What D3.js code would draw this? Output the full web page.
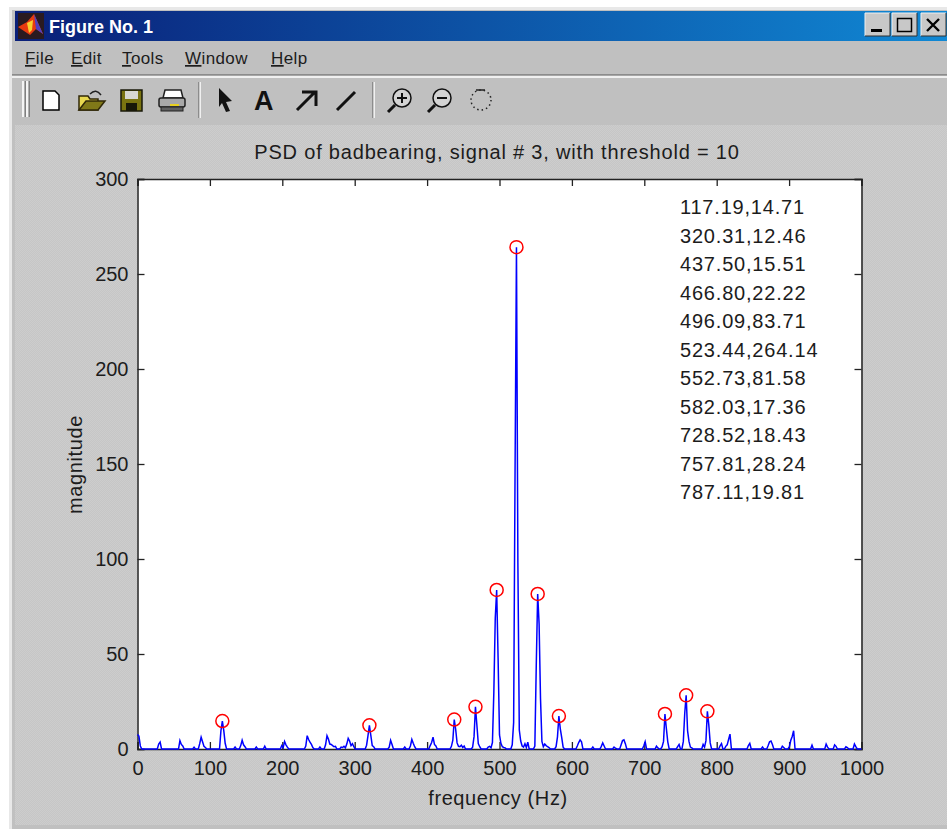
<!DOCTYPE html>
<html>

<head>
    <meta charset="utf-8">
    <style>
        html, body {
            margin: 0;
            padding: 0;
            background: white;
            overflow: hidden;
        }

        svg {
            display: block;
        }

        text {
            font-family: 'Liberation Sans', Arial, sans-serif;
            fill: #1c1c1c;
        }
    </style>
</head>

<body>
    <svg width="947" height="829"></svg>
</body>

<script src="https://d3js.org/d3.v7.min.js"></script>

<script>
    // spectrum, one group per bump, zero between bumps
    let spectrumFreq = [
        0, 1.95, 3.91, 5.86,
        27.34, 29.3, 31.25, 33.2,
        56.64, 58.59, 60.55, 62.5, 64.45,
        76.17, 78.13, 80.08,
        83.98, 85.94, 87.89, 89.84, 91.8, 93.75, 95.7,
        113.28, 115.23, 117.19, 119.14, 121.09, 123.05,
        132.81, 134.77, 136.72,
        140.63, 142.58, 144.53, 146.48, 148.44, 150.39,
        162.11, 164.06, 166.02,
        173.83, 175.78, 177.73,
        197.27, 199.22, 201.17, 203.13, 205.08, 207.03, 208.98,
        230.47, 232.42, 234.38, 236.33, 238.28, 240.23, 242.19, 244.14,
        250, 251.95, 253.91,
        257.81, 259.77, 261.72, 263.67, 265.63, 267.58, 269.53, 271.48, 273.44, 275.39,
        279.3, 281.25, 283.2, 285.16, 287.11, 289.06, 291.02, 292.97, 294.92, 296.88, 298.83, 300.78,
        314.45, 316.41, 318.36, 320.31, 322.27, 324.22, 326.17, 328.13,
        345.7, 347.66, 349.61, 351.56, 353.52,
        367.19, 369.14, 371.09,
        375, 376.95, 378.91, 380.86, 382.81, 384.77,
        402.34, 404.3, 406.25, 408.2, 410.16, 412.11, 414.06,
        431.64, 433.59, 435.55, 437.5, 439.45, 441.41, 443.36, 445.31, 447.27, 449.22, 451.17, 453.13,
        460.94, 462.89, 464.84, 466.8, 468.75, 470.7, 472.66, 474.61,
        482.42, 484.38, 486.33, 488.28, 490.23, 492.19, 494.14, 496.09, 498.05, 500, 501.95, 503.91, 505.86, 507.81, 509.77,
        515.63, 517.58, 519.53, 521.48, 523.44, 525.39, 527.34, 529.3, 531.25, 533.2, 535.16, 537.11, 539.06, 541.02,
        546.88, 548.83, 550.78, 552.73, 554.69, 556.64, 558.59, 560.55, 562.5, 564.45, 566.41, 568.36, 570.31,
        576.17, 578.13, 580.08, 582.03, 583.98, 585.94, 587.89, 589.84,
        605.47, 607.42, 609.38, 611.33, 613.28, 615.23,
        626.95, 628.91, 630.86,
        638.67, 640.63, 642.58, 644.53, 646.48,
        656.25, 658.2, 660.16, 662.11,
        666.02, 667.97, 669.92, 671.88, 673.83, 675.78,
        697.27, 699.22, 701.17, 703.13,
        714.84, 716.8, 718.75, 720.7,
        722.66, 724.61, 726.56, 728.52, 730.47, 732.42, 734.38,
        744.14, 746.09, 748.05, 750,
        751.95, 753.91, 755.86, 757.81, 759.77, 761.72, 763.67, 765.63, 767.58,
        779.3, 781.25, 783.2, 785.16, 787.11, 789.06, 791.02, 792.97,
        802.73, 804.69, 806.64, 808.59,
        810.55, 812.5, 814.45, 816.41, 818.36, 820.31,
        841.8, 843.75, 845.7, 847.66,
        861.33, 863.28, 865.23,
        869.14, 871.09, 873.05, 875, 876.95, 878.91,
        888.67, 890.63, 892.58, 894.53,
        898.44, 900.39, 902.34, 904.3, 906.25, 908.2,
        929.69, 931.64, 933.59,
        949.22, 951.17, 953.13, 955.08,
        960.94, 962.89, 964.84, 966.8,
        976.56, 978.52, 980.47, 982.42,
        988.28, 990.23, 992.19, 994.14,
        1000
    ];
    let spectrumMag = [
        7.6, 6.8, 1.6, 0,
        0, 2.6, 3.6, 0,
        0, 4.4, 2.4, 1.6, 0,
        0, 0.9, 0,
        0, 2.8, 6.2, 3.8, 1.4, 0.8, 0,
        0, 9.6, 14.71, 9.8, 3, 0,
        0, 1, 0,
        0, 1.8, 4.6, 2.2, 1.2, 0,
        0, 1, 0,
        0, 1.5, 0,
        0, 1.8, 0.6, 4, 2.2, 1, 0,
        0, 1.5, 7, 5, 3.6, 2.4, 0.8, 0,
        0, 1, 0,
        0, 2.2, 7, 5.2, 2.6, 2.4, 1.8, 1.2, 1.4, 0,
        0, 1, 0.8, 1.4, 0.6, 2.6, 5.6, 4.2, 1.8, 2.8, 1.2, 0,
        0, 2, 7, 12.46, 7.2, 1.8, 1.2, 0,
        0, 1, 4.6, 2.4, 0,
        0, 1, 0,
        0, 1.6, 5, 3, 1.2, 0,
        0, 1.8, 3.4, 6.2, 2.4, 1.6, 0,
        0, 1.4, 4.6, 15.51, 10.4, 3.2, 1.4, 1.2, 2, 0.8, 1.6, 0,
        0, 1, 6.5, 22.22, 12.6, 2.8, 1.2, 0,
        0, 1, 1.4, 0.6, 3.4, 30, 68.8, 83.71, 48, 7.4, 3, 1.2, 0.8, 0.6, 0,
        0, 2.2, 14, 146, 264.14, 98, 10, 4.2, 1.6, 1, 2.8, 0.8, 3.6, 0,
        0, 1.6, 44, 81.58, 66, 26.6, 4, 1.2, 2.6, 1.8, 1.2, 0.8, 0,
        0, 1.2, 6.4, 17.36, 10.6, 6, 1, 0,
        0, 1.6, 3.4, 4.8, 3.8, 0,
        0, 1, 0,
        0, 1.4, 3.2, 1.6, 0,
        0, 1, 0.4, 0,
        0, 2.2, 4.4, 4.8, 2.8, 0,
        0, 1.6, 3.8, 0,
        0, 1.5, 0.6, 0,
        0, 1.2, 4, 18.43, 10.8, 3.8, 0,
        0, 1.2, 2.4, 0,
        0, 4, 18.8, 28.24, 9.6, 4, 1, 0.6, 0,
        0, 2.4, 1, 4.4, 19.81, 12.8, 3.2, 0,
        0, 1.6, 2.8, 0,
        0, 1.4, 2.2, 5, 7.8, 0,
        0, 1.8, 3, 0,
        0, 1, 0,
        0, 1.8, 3.8, 4.2, 2.4, 0,
        0, 1.5, 0.8, 0,
        0, 1.2, 4.6, 6.6, 9.6, 0,
        0, 2, 0,
        0, 2.6, 1, 0,
        0, 2.2, 1.4, 0,
        0, 1.2, 0.8, 0,
        0, 2.6, 1.2, 0,
        0
    ];

    // detected peaks over threshold
    let peakFreq = [117.19, 320.31, 437.50, 466.80, 496.09, 523.44, 552.73, 582.03, 728.52, 757.81, 787.11];
    let peakMag = [14.71, 12.46, 15.51, 22.22, 83.71, 264.14, 81.58, 17.36, 18.43, 28.24, 19.81];
    let peakLabels = ["117.19,14.71", "320.31,12.46", "437.50,15.51", "466.80,22.22", "496.09,83.71", "523.44,264.14",
        "552.73,81.58", "582.03,17.36", "728.52,18.43", "757.81,28.24", "787.11,19.81"];

    let xTicks = [0, 100, 200, 300, 400, 500, 600, 700, 800, 900, 1000];
    let yTicks = [0, 50, 100, 150, 200, 250, 300];
    let menuItems = ["File", "Edit", "Tools", "Window", "Help"];
    let menuX = [25, 71, 122, 185, 271];

    let chartTitle = "PSD of badbearing, signal # 3, with threshold = 10";
    let xLabel = "frequency (Hz)";
    let yLabel = "magnitude";

    let svg = d3.select("svg");
    let defs = svg.append("defs");

    // window frame
    svg.append("rect").attr("x", 9).attr("y", 7).attr("width", 938).attr("height", 822).attr("fill", "#e8e8e8");
    svg.append("rect").attr("x", 12).attr("y", 10).attr("width", 935).attr("height", 819).attr("fill", "#c0c0c0");

    // dithered figure background
    let dither = defs.append("pattern").attr("id", "dither")
        .attr("width", 2).attr("height", 2).attr("patternUnits", "userSpaceOnUse");
    dither.append("rect").attr("width", 2).attr("height", 2).attr("fill", "#c6c6c6");
    dither.append("rect").attr("width", 1).attr("height", 1).attr("fill", "#cdcdcd");
    dither.append("rect").attr("x", 1).attr("y", 1).attr("width", 1).attr("height", 1).attr("fill", "#cdcdcd");
    svg.append("rect").attr("x", 15).attr("y", 125).attr("width", 932).attr("height", 700).attr("fill", "url(#dither)");

    // title bar
    let grad = defs.append("linearGradient").attr("id", "titlebar");
    grad.append("stop").attr("offset", "0%").attr("stop-color", "#0a1f78");
    grad.append("stop").attr("offset", "100%").attr("stop-color", "#1088d4");
    svg.append("rect").attr("x", 15).attr("y", 11).attr("width", 932).attr("height", 30).attr("fill", "url(#titlebar)");

    let logo = svg.append("g");
    logo.append("rect").attr("x", 18).attr("y", 13).attr("width", 26).attr("height", 26).attr("fill", "#2a1a20");
    logo.append("path").attr("d", "M18 27 L27 22 L34 14 L43 34 L36 29 L30 35 Z").attr("fill", "#e83a10");
    logo.append("path").attr("d", "M34 14 L43 34 L36 29 Z").attr("fill", "#5040c0");
    logo.append("path").attr("d", "M27 23 L33 20 L32 30 L29 33 Z").attr("fill", "#f8d030");

    svg.append("text").attr("x", 49).attr("y", 33).text("Figure No. 1")
        .style("font-weight", "bold").style("font-size", "18px").style("fill", "white");

    // window buttons
    let buttons = svg.append("g");
    [865, 892, 921].forEach(x => {
        buttons.append("rect").attr("x", x).attr("y", 13).attr("width", 25).attr("height", 23).attr("fill", "#c8c8c8");
        buttons.append("path").attr("d", `M${x} 36 V13 H${x + 25}`).attr("fill", "none").attr("stroke", "#f0f0f0");
        buttons.append("path").attr("d", `M${x} 36 H${x + 25} V13`).attr("fill", "none").attr("stroke", "#303030");
    });
    buttons.append("rect").attr("x", 871).attr("y", 29).attr("width", 11).attr("height", 3).attr("fill", "black");
    buttons.append("rect").attr("x", 897.5).attr("y", 18.5).attr("width", 14).attr("height", 13)
        .attr("fill", "none").attr("stroke", "black").attr("stroke-width", 1.5);
    buttons.append("path").attr("d", "M927 19 L939 31 M939 19 L927 31").attr("stroke", "black").attr("stroke-width", 2.4);

    // menu
    let menu = svg.append("g").selectAll("text").data(menuItems).join("text")
        .attr("x", (d, i) => menuX[i])
        .attr("y", 64)
        .style("font-size", "17px")
        .style("letter-spacing", "0.4px");
    menu.append("tspan").style("text-decoration", "underline").text(d => d[0]);
    menu.append("tspan").text(d => d.slice(1));

    svg.append("rect").attr("x", 12).attr("y", 74).attr("width", 935).attr("height", 1.5).attr("fill", "#8c8c8c");
    svg.append("rect").attr("x", 12).attr("y", 76).attr("width", 935).attr("height", 2).attr("fill", "#f0f0f0");

    // toolbar
    let tb = svg.append("g");
    tb.append("rect").attr("x", 22).attr("y", 81).attr("width", 2.5).attr("height", 36).attr("fill", "#f4f4f4");
    tb.append("rect").attr("x", 24.5).attr("y", 81).attr("width", 1.5).attr("height", 36).attr("fill", "#808080");
    tb.append("rect").attr("x", 26).attr("y", 81).attr("width", 2.5).attr("height", 36).attr("fill", "#f4f4f4");
    tb.append("rect").attr("x", 28.5).attr("y", 81).attr("width", 1.5).attr("height", 36).attr("fill", "#808080");
    [198, 372].forEach(x => {
        tb.append("rect").attr("x", x).attr("y", 82).attr("width", 1.5).attr("height", 36).attr("fill", "#8c8c8c");
        tb.append("rect").attr("x", x + 1.5).attr("y", 82).attr("width", 1.5).attr("height", 36).attr("fill", "#f0f0f0");
    });
    // new
    tb.append("path").attr("d", "M43 91 H55 L59 95 V110 H43 Z").attr("fill", "white").attr("stroke", "black").attr("stroke-width", 1.5);
    // open
    tb.append("path").attr("d", "M79 96 H88 L90 99 H98 V110 H79 Z").attr("fill", "#e8d850").attr("stroke", "#302808").attr("stroke-width", 1.5);
    tb.append("path").attr("d", "M79 110 L86 101 H105 L98 110 Z").attr("fill", "#807818").attr("stroke", "#302808").attr("stroke-width", 1.5);
    tb.append("path").attr("d", "M90 94 Q96 88 101 95").attr("fill", "none").attr("stroke", "#202020").attr("stroke-width", 1.5);
    // save
    tb.append("rect").attr("x", 121).attr("y", 90).attr("width", 21).attr("height", 21).attr("fill", "#7a7410").attr("stroke", "#181808").attr("stroke-width", 1.5);
    tb.append("rect").attr("x", 125).attr("y", 91).attr("width", 13).attr("height", 8).attr("fill", "#d8d8d0");
    tb.append("rect").attr("x", 126).attr("y", 103).attr("width", 11).attr("height", 8).attr("fill", "#181808");
    // print
    tb.append("path").attr("d", "M165 90 H181 L183 98 H163 Z").attr("fill", "white").attr("stroke", "#202020").attr("stroke-width", 1.5);
    tb.append("rect").attr("x", 159).attr("y", 98).attr("width", 26).attr("height", 9).attr("rx", 2).attr("fill", "#a8a8a8").attr("stroke", "#202020").attr("stroke-width", 1.5);
    tb.append("rect").attr("x", 161).attr("y", 107).attr("width", 22).attr("height", 4).attr("fill", "#606060").attr("stroke", "#202020");
    tb.append("rect").attr("x", 170).attr("y", 104).attr("width", 9).attr("height", 2).attr("fill", "#e8d020");
    // select arrow
    tb.append("path").attr("d", "M219 88 L232 101 L226 102 L230 111 L226 112 L222 103 L219 107 Z").attr("fill", "#111");
    // text tool
    tb.append("text").attr("x", 254).attr("y", 110).text("A").style("font-size", "27px").style("font-weight", "bold").style("fill", "#111");
    // arrow tool
    tb.append("path").attr("d", "M297 110 L314 93 M302 92 H316 V106").attr("fill", "none").attr("stroke", "#111").attr("stroke-width", 3);
    // line tool
    tb.append("path").attr("d", "M337 110 L355 92").attr("stroke", "#111").attr("stroke-width", 3);
    // zoom in / out
    [402, 442].forEach((x, i) => {
        tb.append("circle").attr("cx", x).attr("cy", 98).attr("r", 9).attr("fill", "#d4d4d4").attr("stroke", "#111").attr("stroke-width", 1.5);
        tb.append("path").attr("d", `M${x - 7} 105 L${x - 14} 112`).attr("stroke", "#111").attr("stroke-width", 3);
        tb.append("path").attr("d", `M${x - 5} 98 H${x + 5}`).attr("stroke", "#111").attr("stroke-width", 2);
        if (i == 0) tb.append("path").attr("d", `M${x} 93 V103`).attr("stroke", "#111").attr("stroke-width", 2);
    });
    // rotate
    tb.append("circle").attr("cx", 481).attr("cy", 100).attr("r", 10).attr("fill", "none")
        .attr("stroke", "#222").attr("stroke-width", 1.5).attr("stroke-dasharray", "1.5 3");
    tb.append("path").attr("d", "M476 90 H485").attr("stroke", "#222").attr("stroke-width", 1.5);

    // the axes
    let margin = { top: 179, right: 85.5, bottom: 80, left: 137.5 };
    let x = d3.scaleLinear().domain([0, 1000]).range([margin.left, 947 - margin.right]);
    let y = d3.scaleLinear().domain([0, 300]).range([829 - margin.bottom, margin.top]);

    svg.append("rect")
        .attr("x", x(0)).attr("y", y(300))
        .attr("width", x(1000) - x(0)).attr("height", y(0) - y(300))
        .attr("fill", "white");

    let xAxis = d3.axisBottom(x).tickValues(xTicks).tickSize(-7).tickPadding(12).tickFormat(d3.format("d"));
    let yAxis = d3.axisLeft(y).tickValues(yTicks).tickSize(-7).tickPadding(9).tickFormat(d3.format("d"));
    let xTop = d3.axisTop(x).tickValues(xTicks).tickSize(-7).tickFormat("");
    let yRight = d3.axisRight(y).tickValues(yTicks).tickSize(-7).tickFormat("");

    [
        [xAxis, `translate(0,${y(0)})`],
        [yAxis, `translate(${x(0)},0)`],
        [xTop, `translate(0,${y(300)})`],
        [yRight, `translate(${x(1000)},0)`]
    ].forEach(a => {
        let g = svg.append("g").attr("transform", a[1]).call(a[0]);
        g.select(".domain").attr("stroke", "#222").attr("stroke-width", 1.5);
        g.selectAll(".tick line").attr("stroke", "#222").attr("stroke-width", 1.3);
        g.selectAll("text").style("font-size", "20px").style("font-family", "'Liberation Sans', Arial, sans-serif").attr("fill", "#1c1c1c");
    });

    // spectrum
    let line = d3.line().x(d => x(d[0])).y(d => y(d[1]));
    svg.append("path")
        .datum(d3.zip(spectrumFreq, spectrumMag))
        .attr("d", line)
        .attr("fill", "none")
        .attr("stroke", "#0000ff")
        .attr("stroke-width", 1.5);

    // peak markers
    svg.append("g").selectAll("circle")
        .data(d3.zip(peakFreq, peakMag))
        .join("circle")
        .attr("cx", d => x(d[0]))
        .attr("cy", d => y(d[1]))
        .attr("r", 6.5)
        .attr("fill", "none")
        .attr("stroke", "#ff0000")
        .attr("stroke-width", 1.5);

    // peak listing
    svg.append("g").selectAll("text")
        .data(peakLabels)
        .join("text")
        .attr("x", 680)
        .attr("y", (d, i) => 214 + i * 28.5)
        .text(d => d)
        .style("font-size", "20px")
        .style("letter-spacing", "0.8px");

    svg.append("text")
        .attr("x", 497).attr("y", 159)
        .attr("text-anchor", "middle")
        .text(chartTitle)
        .style("font-size", "20px")
        .style("letter-spacing", "0.8px");

    svg.append("text")
        .attr("x", 498).attr("y", 805)
        .attr("text-anchor", "middle")
        .text(xLabel)
        .style("font-size", "20px")
        .style("letter-spacing", "0.6px");

    svg.append("text")
        .attr("transform", "translate(82,464.5) rotate(-90)")
        .attr("text-anchor", "middle")
        .text(yLabel)
        .style("font-size", "20px")
        .style("letter-spacing", "0.6px");
</script>

</html>
